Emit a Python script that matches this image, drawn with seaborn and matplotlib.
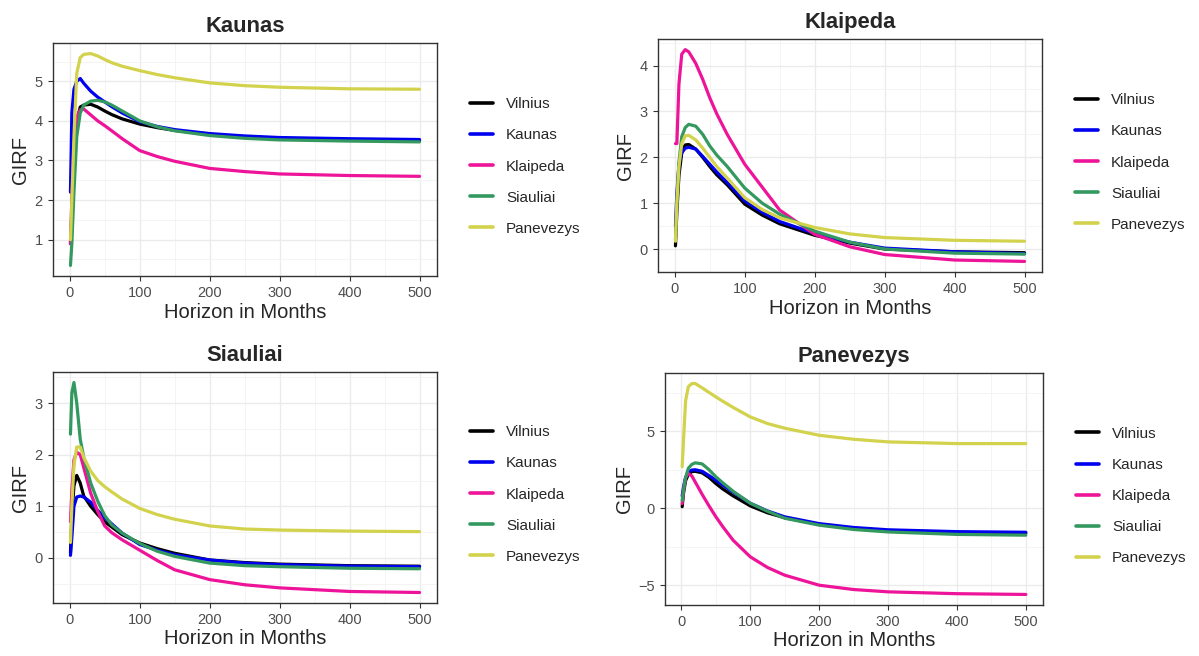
import matplotlib
matplotlib.use("Agg")
import matplotlib.pyplot as plt
import seaborn as sns
import pandas as pd
import numpy as np

horizon = [1, 3, 6, 10, 15, 20, 30, 40, 50, 60, 75, 100, 125, 150, 200, 250, 300, 400, 500]

regions = ["Vilnius", "Kaunas", "Klaipeda", "Siauliai", "Panevezys"]
colors = ["#000000", "#0000F0", "#EE1499", "#33995F", "#D2D24C"]

# shock to Kaunas
kaunas_vilnius = [0.9, 1.7, 3.0, 4.0, 4.35, 4.4, 4.42, 4.35, 4.25, 4.16, 4.05, 3.92, 3.83, 3.76, 3.66, 3.6, 3.56, 3.52, 3.5]
kaunas_kaunas = [2.2, 4.2, 4.8, 5.0, 5.07, 4.95, 4.75, 4.6, 4.48, 4.36, 4.2, 3.98, 3.86, 3.78, 3.68, 3.62, 3.58, 3.55, 3.53]
kaunas_klaipeda = [0.9, 2.0, 3.4, 4.1, 4.28, 4.3, 4.15, 4.0, 3.88, 3.75, 3.55, 3.25, 3.1, 2.98, 2.8, 2.72, 2.66, 2.62, 2.6]
kaunas_siauliai = [0.35, 0.9, 2.2, 3.6, 4.2, 4.4, 4.5, 4.52, 4.48, 4.4, 4.25, 4.0, 3.85, 3.75, 3.63, 3.56, 3.52, 3.49, 3.47]
kaunas_panevezys = [1.0, 2.0, 3.6, 5.2, 5.6, 5.68, 5.7, 5.64, 5.55, 5.47, 5.38, 5.27, 5.17, 5.09, 4.96, 4.89, 4.85, 4.81, 4.8]

# shock to Klaipeda
klaipeda_vilnius = [0.07, 0.8, 1.6, 2.1, 2.27, 2.28, 2.18, 2.0, 1.8, 1.62, 1.4, 0.98, 0.74, 0.55, 0.3, 0.13, 0.0, -0.06, -0.08]
klaipeda_kaunas = [0.5, 1.2, 1.85, 2.1, 2.2, 2.22, 2.18, 2.02, 1.85, 1.68, 1.45, 1.05, 0.8, 0.6, 0.34, 0.15, 0.02, -0.06, -0.1]
klaipeda_klaipeda = [2.3, 2.3, 3.6, 4.25, 4.35, 4.3, 4.05, 3.7, 3.3, 2.95, 2.5, 1.85, 1.35, 0.85, 0.32, 0.05, -0.12, -0.24, -0.27]
klaipeda_siauliai = [0.2, 1.0, 1.9, 2.45, 2.65, 2.72, 2.68, 2.5, 2.25, 2.05, 1.8, 1.33, 1.0, 0.76, 0.39, 0.15, 0.0, -0.09, -0.11]
klaipeda_panevezys = [0.17, 1.0, 1.8, 2.3, 2.47, 2.48, 2.38, 2.2, 2.0, 1.8, 1.55, 1.12, 0.86, 0.68, 0.47, 0.33, 0.25, 0.19, 0.17]

# shock to Siauliai
siauliai_vilnius = [0.1, 0.8, 1.4, 1.6, 1.45, 1.2, 1.0, 0.84, 0.7, 0.6, 0.45, 0.29, 0.18, 0.09, -0.04, -0.09, -0.12, -0.15, -0.16]
siauliai_kaunas = [0.05, 0.4, 1.0, 1.18, 1.2, 1.18, 1.08, 0.92, 0.78, 0.66, 0.48, 0.26, 0.15, 0.06, -0.04, -0.1, -0.13, -0.16, -0.17]
siauliai_klaipeda = [0.7, 1.3, 1.9, 2.05, 2.0, 1.75, 1.25, 0.9, 0.62, 0.49, 0.35, 0.15, -0.05, -0.23, -0.42, -0.52, -0.58, -0.65, -0.67]
siauliai_siauliai = [2.4, 3.2, 3.4, 3.0, 2.3, 1.95, 1.45, 1.1, 0.82, 0.64, 0.48, 0.28, 0.13, 0.03, -0.1, -0.15, -0.17, -0.2, -0.21]
siauliai_panevezys = [0.3, 1.0, 1.8, 2.15, 2.15, 1.95, 1.68, 1.5, 1.38, 1.28, 1.14, 0.96, 0.84, 0.75, 0.62, 0.56, 0.54, 0.52, 0.51]

# shock to Panevezys
panevezys_vilnius = [0.1, 1.0, 1.8, 2.2, 2.38, 2.4, 2.3, 2.0, 1.6, 1.25, 0.8, 0.15, -0.3, -0.62, -1.05, -1.3, -1.45, -1.58, -1.62]
panevezys_kaunas = [0.8, 1.4, 2.0, 2.35, 2.48, 2.5, 2.4, 2.12, 1.82, 1.5, 1.05, 0.32, -0.18, -0.56, -1.0, -1.25, -1.4, -1.52, -1.56]
panevezys_klaipeda = [0.3, 1.2, 2.0, 2.25, 2.1, 1.7, 0.9, 0.15, -0.56, -1.2, -2.08, -3.16, -3.85, -4.35, -5.0, -5.28, -5.43, -5.55, -5.6]
panevezys_siauliai = [0.5, 1.2, 2.0, 2.6, 2.85, 2.95, 2.88, 2.5, 2.04, 1.65, 1.1, 0.32, -0.2, -0.65, -1.1, -1.38, -1.54, -1.7, -1.75]
panevezys_panevezys = [2.7, 4.5, 7.0, 7.9, 8.1, 8.1, 7.82, 7.52, 7.23, 6.95, 6.55, 5.93, 5.5, 5.2, 4.74, 4.48, 4.31, 4.2, 4.2]

panels = {
    "Kaunas": [kaunas_vilnius, kaunas_kaunas, kaunas_klaipeda, kaunas_siauliai, kaunas_panevezys],
    "Klaipeda": [klaipeda_vilnius, klaipeda_kaunas, klaipeda_klaipeda, klaipeda_siauliai, klaipeda_panevezys],
    "Siauliai": [siauliai_vilnius, siauliai_kaunas, siauliai_klaipeda, siauliai_siauliai, siauliai_panevezys],
    "Panevezys": [panevezys_vilnius, panevezys_kaunas, panevezys_klaipeda, panevezys_siauliai, panevezys_panevezys],
}

# axes boxes in figure pixels: left, top, right, bottom
W, H = 1199, 656
boxes = {
    "Kaunas": (53, 43, 437, 276),
    "Klaipeda": (658, 39, 1042, 272),
    "Siauliai": (53, 372, 437, 603),
    "Panevezys": (665, 373, 1043, 605),
}

sns.set_theme(style="white")
plt.rcParams["font.family"] = ["Liberation Sans", "DejaVu Sans"]

fig = plt.figure(figsize=(W / 100, H / 100), dpi=100)

for name, series in panels.items():
    l, t, r, b = boxes[name]
    ax = fig.add_axes([l / W, (H - b) / H, (r - l) / W, (b - t) / H])

    df = pd.DataFrame({
        "Horizon": horizon * len(regions),
        "GIRF": [v for s in series for v in s],
        "Region": [reg for reg in regions for _ in horizon],
    })
    sns.lineplot(data=df, x="Horizon", y="GIRF", hue="Region", hue_order=regions,
                 palette=colors, linewidth=2.3, ax=ax, legend=True)

    ax.set_facecolor("white")
    ax.set_xticks([0, 100, 200, 300, 400, 500])
    ax.set_xticks([50, 150, 250, 350, 450], minor=True)
    ymin, ymax = ax.get_ylim()
    if name == "Panevezys":
        ax.set_yticks([-5, 0, 5])
        ax.set_yticks([-7.5, -2.5, 2.5, 7.5], minor=True)
    else:
        ax.set_yticks(np.arange(np.ceil(ymin), ymax + 0.01, 1))
        ax.set_yticks(np.arange(np.ceil(ymin * 2) / 2, ymax, 0.5), minor=True)
    ax.set_ylim(ymin, ymax)
    ax.set_xlim(1 - 24.95, 500 + 24.95)

    ax.grid(which="major", color="#EBEBEB", linewidth=1.0)
    ax.grid(which="minor", color="#F3F3F3", linewidth=0.6)
    ax.set_axisbelow(True)
    for sp in ax.spines.values():
        sp.set_color("#333333")
        sp.set_linewidth(1.0)
    ax.tick_params(which="major", direction="out", length=3.5, width=0.8,
                   color="#333333", labelsize=10.5, labelcolor="#4D4D4D",
                   bottom=True, left=True, pad=4)
    ax.tick_params(which="minor", length=0)

    ax.set_title(name, fontsize=15.8, fontweight="bold", pad=8)
    ax.set_xlabel("Horizon in Months", fontsize=14.5, labelpad=1.5)
    ax.set_ylabel("GIRF", fontsize=14.5, labelpad=3)

    handles, labels = ax.get_legend_handles_labels()
    for hd in handles:
        hd.set_linewidth(2.6)
    ax.legend(handles, labels, loc="center left",
              bbox_to_anchor=(1 + 33 / (r - l), 0.5 - 7 / (b - t)),
              frameon=False, fontsize=11, handlelength=1.5, handletextpad=0.85,
              labelspacing=1.12, borderpad=0, borderaxespad=0)

fig.savefig("out.png", dpi=100)
